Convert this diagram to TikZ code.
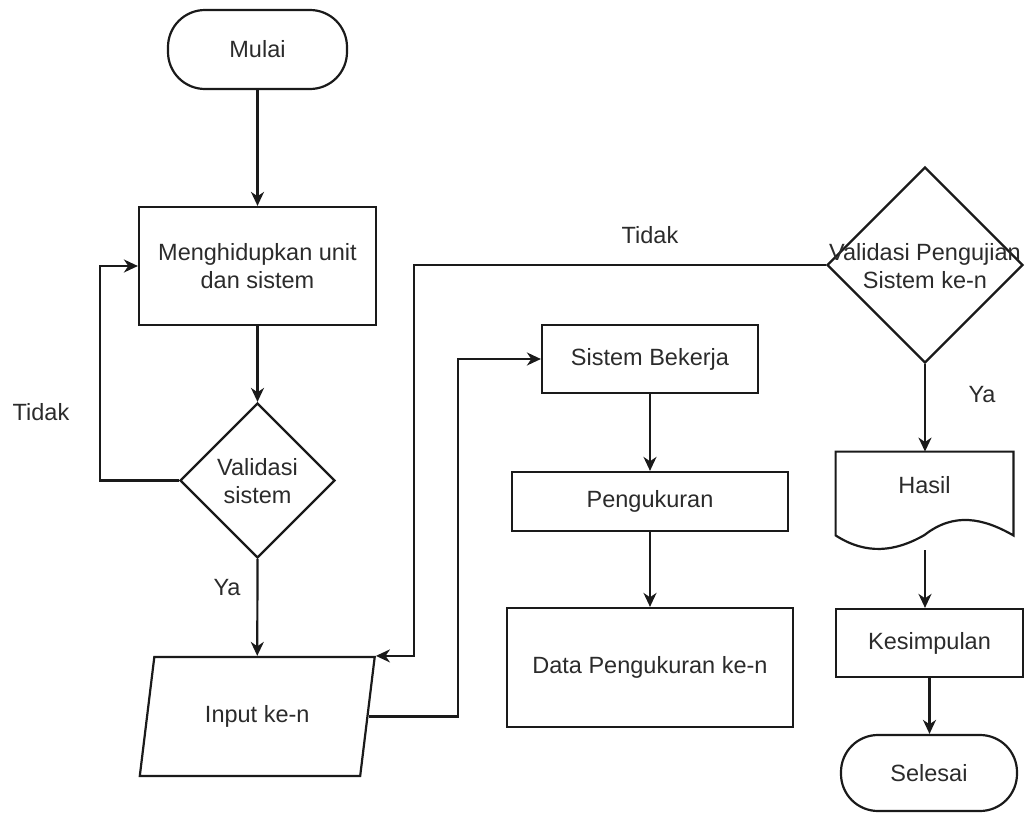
\documentclass[tikz,border=0pt]{standalone}
\usepackage{fontspec}
\setmainfont{Liberation Sans}
\usetikzlibrary{arrows.meta,shapes.geometric}
\definecolor{ink}{HTML}{1A1A1A}
\definecolor{txtc}{HTML}{2B2B2B}
\tikzset{
  box/.style={draw=ink, line width=1.1pt, rectangle, inner sep=0pt, text=txtc, align=center},
  term/.style={box, rounded corners=18.5pt},
  decision/.style={draw=ink, line width=1.1pt, diamond, inner sep=0pt},
  lbl/.style={text=txtc, inner sep=0pt, align=center},
  flow/.style={draw=ink, line width=1.1pt, -{Stealth[length=7pt,width=6.5pt,inset=2.2pt]}}
}
\begin{document}
\begin{tikzpicture}[x=0.5pt, y=-0.5pt, font=\fontsize{11.75}{14}\selectfont]
\useasboundingbox (0,0) rectangle (1025,814);

% left column
\node[term, minimum width=89.5pt, minimum height=39.5pt] (mulai) at (257.5,49.5) {Mulai};
\node[box, minimum width=118.5pt, minimum height=59pt] (hidup) at (257.5,266) {Menghidupkan unit\\dan sistem};
\node[decision, minimum width=77.5pt, minimum height=77.5pt] (cek) at (257.5,480.5) {};
\node[lbl] (cektxt) at (257.5,481) {Validasi\\sistem};
\node[draw=ink, line width=1.1pt, trapezium, trapezium left angle=71.4, trapezium right angle=108.6,
      trapezium stretches=true, minimum width=118pt, minimum height=59.5pt, inner sep=0pt,
      text=txtc] (input) at (257.25,716.5) {Input ke-n};

% middle column
\node[box, minimum width=108pt, minimum height=34pt] (kerja) at (650,359) {Sistem Bekerja};
\node[box, minimum width=138pt, minimum height=29.5pt] (ukur) at (650,501.5) {Pengukuran};
\node[box, minimum width=143pt, minimum height=59.5pt] (data) at (650,667.5) {Data Pengukuran ke-n};

% right column
\node[decision, minimum width=98pt, minimum height=98pt] (uji) at (925,265) {};
\node[lbl] (ujitxt) at (925,266) {Validasi Pengujian\\Sistem ke-n};
\node[inner sep=0pt, minimum width=88.5pt, minimum height=41.5pt] (hasil) at (924.5,493.5) {};
\draw[ink, line width=1.1pt] (hasil.north west) -- (hasil.north east) -- (hasil.south east)
  .. controls (983,518) and (954,512) .. (924.5,535)
  .. controls (895,552) and (866,555) .. (hasil.south west) -- cycle;
\node[lbl] (hasiltxt) at (924.5,485) {Hasil};
\coordinate (hasilout) at (925,550);
\node[box, minimum width=93.5pt, minimum height=34pt] (kes) at (929.5,643) {Kesimpulan};
\node[term, minimum width=88pt, minimum height=38pt] (selesai) at (929,773) {Selesai};

% bend columns
\coordinate (loopX) at (100,0);
\coordinate (backX) at (414,0);
\coordinate (fwdX) at (458,0);

% connectors
\draw[flow] (mulai.south) -- (hidup.north);
\draw[flow] (hidup.south) -- (cek.north);
\draw[flow] (cek.west) -- (cek.west -| loopX) |- (hidup.west);
\draw[flow] (cek.south) -- (input.north);
\draw[flow] (uji.west) -- (uji.west -| backX) |- (input.top right corner);
\draw[flow] (input.east) -- (input.east -| fwdX) |- (kerja.west);
\draw[flow] (kerja.south) -- (ukur.north);
\draw[flow] (ukur.south) -- (data.north);
\draw[flow] (uji.south) -- (uji.south |- hasil.north);
\draw[flow] (hasilout) -- (hasilout |- kes.north);
\draw[flow] (kes.south) -- (kes.south |- selesai.north);

% branch labels
\node[lbl] (tidak1) at (41,412) {Tidak};
\node[lbl] (ya1) at (227,588) {Ya};
\node[lbl] (tidak2) at (650,235) {Tidak};
\node[lbl] (ya2) at (982,395) {Ya};
\end{tikzpicture}
\end{document}
